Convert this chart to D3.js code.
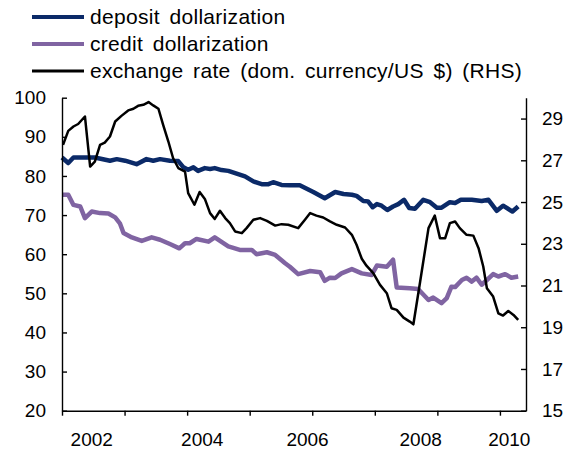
<!DOCTYPE html>
<html>
<head>
<meta charset="utf-8">
<script src="https://cdn.jsdelivr.net/npm/d3@7"></script>
<style>
  body { margin: 0; background: #fff; }
  svg { display: block; font-family: "Liberation Sans", Arial, sans-serif; }
  .axis path, .axis line { stroke: #000; stroke-width: 1.4; }
  .axis text { font-size: 19px; fill: #000; }
</style>
</head>
<body>
<div id="chart"></div>
<script>
// series: [month index since start, value]
const deposit = [[0,84.7],[1.2,83.3],[2.2,84.7],[6.3,84.7],[9.2,83.9],[10.5,84.3],[12.1,83.9],[14.3,83.0],
  [16.2,84.3],[17.5,83.9],[18.8,84.3],[20.7,83.9],[22.3,83.8],[23.3,82.2],[24.2,81.6],[25.2,82.2],[26.1,81.3],
  [27.4,82.0],[28.4,81.8],[29.3,82.0],[30.6,81.5],[31.9,81.3],[33.5,80.6],[35.1,79.9],[36.7,78.6],[38.3,77.9],
  [39.6,77.9],[40.5,78.4],[42.1,77.7],[43.7,77.6],[45.6,77.6],[48.2,75.9],[50.4,74.3],[52.4,75.9],[54.0,75.4],
  [55.6,75.2],[56.5,74.9],[57.8,73.6],[58.7,73.5],[59.6,72.0],[60.4,72.8],[61.3,72.4],[62.4,71.3],[63.5,72.2],
  [64.5,72.8],[65.6,73.9],[66.6,71.8],[67.7,71.6],[69.3,73.9],[70.6,73.3],[71.9,71.9],[72.8,71.9],[74.4,73.3],
  [75.4,73.1],[76.5,73.9],[78.6,73.9],[80.5,73.6],[81.8,73.9],[83.4,71.1],[84.6,72.4],[86.4,70.9],[87.5,72.2]];

const credit = [[0,75.2],[1.2,75.2],[2.2,72.6],[3.5,72.2],[4.4,69.2],[5.7,70.9],[7.3,70.5],[8.9,70.4],[10.2,69.4],
  [11.1,67.9],[11.8,65.4],[13.4,64.3],[15.3,63.4],[17.2,64.3],[18.8,63.7],[20.7,62.6],[22.5,61.5],[23.6,62.8],
  [24.5,62.8],[25.8,63.9],[28.1,63.2],[29.3,64.3],[31.9,62.0],[34.1,61.1],[36.4,61.1],[37.3,60.0],[39.3,60.5],
  [40.9,59.8],[42.8,57.7],[43.7,56.8],[45.3,54.9],[47.6,55.7],[49.5,55.4],[50.4,53.2],[51.4,54.0],[52.4,53.9],
  [53.6,55.1],[55.6,56.2],[57.5,55.1],[59.4,54.7],[60.4,57.1],[62.3,56.8],[63.5,58.6],[64.2,51.5],[66.7,51.3],
  [68.3,51.1],[70.3,48.3],[71.2,48.9],[72.8,47.5],[73.8,48.8],[74.7,51.7],[75.4,51.6],[76.7,53.4],[77.6,54.0],
  [78.6,53.0],[79.5,54.0],[80.5,52.2],[81.5,53.4],[82.7,54.9],[83.7,54.3],[85.0,54.9],[86.2,54.0],[87.5,54.3]];

// exchange rate, right hand scale
const exchange = [[0.2,27.74],[1.2,28.41],[2.2,28.62],[3.1,28.74],[4.4,29.10],[5.4,26.70],[6.3,26.94],[7.3,27.74],
  [8.2,27.85],[9.2,28.14],[10.2,28.86],[11.4,29.13],[12.7,29.39],[13.7,29.47],[14.6,29.61],[15.6,29.66],
  [16.6,29.79],[17.5,29.63],[18.5,29.47],[19.4,28.70],[20.4,27.90],[21.3,27.11],[22.3,26.63],[23.6,26.46],
  [24.2,25.43],[25.4,24.87],[26.4,25.48],[27.4,25.15],[28.4,24.47],[29.3,24.19],[30.3,24.58],[31.3,24.23],
  [32.2,23.99],[33.2,23.59],[34.5,23.51],[35.4,23.75],[36.7,24.15],[38.0,24.23],[39.3,24.10],[40.9,23.87],
  [42.1,23.94],[43.4,23.91],[45.3,23.75],[46.6,24.15],[47.6,24.47],[48.8,24.35],[50.1,24.26],[51.4,24.07],
  [52.7,23.91],[54.3,23.78],[55.6,23.43],[56.5,22.95],[57.5,22.28],[58.4,21.95],[59.7,21.59],[61.0,21.03],
  [62.3,20.63],[63.2,19.91],[64.2,19.83],[65.5,19.46],[66.7,19.27],[67.4,19.14],[68.7,21.19],[70.3,23.75],
  [71.5,24.35],[72.5,23.27],[73.5,23.27],[74.4,23.99],[75.4,24.07],[76.3,23.75],[77.6,23.43],[78.9,23.39],
  [79.9,22.79],[80.8,21.91],[81.5,20.87],[82.7,20.47],[83.7,19.67],[84.6,19.56],[85.6,19.78],[86.6,19.59],
  [87.5,19.35]];

const leftTicks = [20, 30, 40, 50, 60, 70, 80, 90, 100];
const rightTicks = [15, 17, 19, 21, 23, 25, 27, 29];
const monthTicks = [0, 12, 24, 36, 48, 60, 72, 84];
const yearLabels = ["2002", "2004", "2006", "2008", "2010"];
const yearLabelAt = [5.7, 26.9, 47.1, 68.8, 85.8];

const legendNames = ["deposit dollarization", "credit dollarization", "exchange rate (dom. currency/US $) (RHS)"];
const colors = ["#0b2a68", "#8064a2", "#000000"];
const widths = [4.5, 4.5, 2.5];

const W = 566, H = 451;
const margin = { top: 97.7, right: 40, bottom: 40.3, left: 62 };
const width = W - margin.left - margin.right,
      height = H - margin.top - margin.bottom;

const svg = d3.select("#chart").append("svg")
  .attr("width", W).attr("height", H);

const g = svg.append("g")
  .attr("transform", `translate(${margin.left},${margin.top})`);

const x = d3.scaleLinear().domain([0, 89]).range([0, width]);
const yL = d3.scaleLinear().domain([20, 100]).range([height, 0]);
const yR = d3.scaleLinear().domain([15, 30]).range([height, 0]);

// lines
const lineL = d3.line().x(d => x(d[0])).y(d => yL(d[1]));
const lineR = d3.line().x(d => x(d[0])).y(d => yR(d[1]));

g.append("path").datum(credit)
  .attr("d", lineL).attr("fill", "none")
  .attr("stroke", colors[1]).attr("stroke-width", widths[1]).attr("stroke-linejoin", "round");

g.append("path").datum(deposit)
  .attr("d", lineL).attr("fill", "none")
  .attr("stroke", colors[0]).attr("stroke-width", widths[0]).attr("stroke-linejoin", "round");

g.append("path").datum(exchange)
  .attr("d", lineR).attr("fill", "none")
  .attr("stroke", colors[2]).attr("stroke-width", widths[2]).attr("stroke-linejoin", "round");

// axes
g.append("g").attr("class", "axis")
  .call(d3.axisLeft(yL).tickValues(leftTicks).tickSizeInner(-5).tickSizeOuter(0).tickPadding(16));

g.append("g").attr("class", "axis")
  .attr("transform", `translate(${width},0)`)
  .call(d3.axisRight(yR).tickValues(rightTicks).tickSizeInner(-5).tickSizeOuter(0).tickPadding(16));

g.append("g").attr("class", "axis")
  .attr("transform", `translate(0,${height})`)
  .call(d3.axisBottom(x).tickValues(monthTicks).tickSizeInner(5).tickSizeOuter(0).tickFormat(""));

g.selectAll(".year")
  .data(yearLabels)
  .enter().append("text")
  .attr("class", "year")
  .attr("x", (d, i) => x(yearLabelAt[i]))
  .attr("y", height + 35)
  .attr("text-anchor", "middle")
  .style("font-size", "19px")
  .text(d => d);

// legend
const legend = svg.append("g").attr("transform", "translate(32,17)");
legendNames.forEach((name, i) => {
  const row = legend.append("g").attr("transform", `translate(0,${i * 27})`);
  row.append("line")
    .attr("x1", 0).attr("x2", 52)
    .attr("stroke", colors[i]).attr("stroke-width", i < 2 ? 4 : 3);
  row.append("text")
    .attr("x", 58).attr("dy", "0.35em")
    .style("font-size", "21px")
    .style("letter-spacing", "0.3px")
    .style("word-spacing", "3.5px")
    .text(name);
});
</script>
</body>
</html>
